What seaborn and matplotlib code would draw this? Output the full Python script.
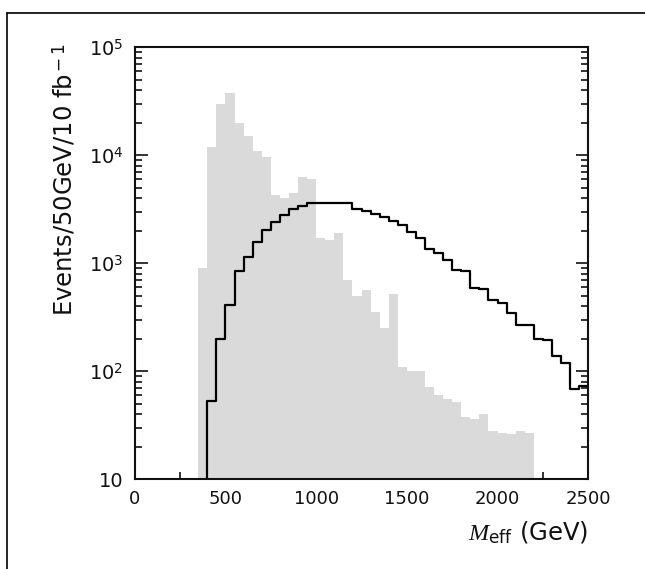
import numpy as np
import pandas as pd
import seaborn as sns
import matplotlib.pyplot as plt
from matplotlib.ticker import FixedLocator, FixedFormatter, LogLocator, NullFormatter

# -------------------------
# Data (50 GeV bins)
# -------------------------
bin_width = 50

# background (grey filled histogram), bins start at 350 GeV
bkg_start = 350
bkg_counts = [900, 12000, 30000, 38000, 20000, 15000, 11000, 9600, 4300, 4000,
              4500, 6300, 6000, 1700, 1650, 1900, 700, 500, 560, 350,
              250, 520, 110, 100, 100, 72, 60, 55, 52, 38,
              36, 40, 28, 27, 26, 28, 27]

# signal (black step line), bins start at 350 GeV (first bin empty)
sig_start = 350
sig_counts = [0, 53, 197, 414, 840, 1150, 1580, 2030, 2390, 2820,
              3180, 3420, 3600, 3620, 3620, 3620, 3580, 3150, 3050, 2870,
              2650, 2450, 2250, 1950, 1700, 1340, 1230, 1080, 860, 840,
              590, 575, 460, 425, 342, 270, 268, 200, 195, 138,
              118, 69, 73]

ytick_vals = [10, 100, 1000, 10000, 100000]
ytick_labels = ["10", "$10^{2}$", "$10^{3}$", "$10^{4}$", "$10^{5}$"]
xtick_vals = [0, 500, 1000, 1500, 2000, 2500]


def to_frame(start, counts):
    centers = start + bin_width * (np.arange(len(counts)) + 0.5)
    df = pd.DataFrame({"meff": centers, "n": counts})
    return df, (start, start + bin_width * len(counts))


bkg_df, bkg_range = to_frame(bkg_start, bkg_counts)
sig_df, sig_range = to_frame(sig_start, sig_counts)

# -------------------------
# Plot
# -------------------------
sns.set_style("ticks")
plt.rcParams["font.family"] = ["DejaVu Sans"]
plt.rcParams["mathtext.fontset"] = "custom"
plt.rcParams["mathtext.rm"] = "DejaVu Sans"
plt.rcParams["mathtext.sf"] = "DejaVu Sans"
plt.rcParams["mathtext.it"] = "Liberation Serif:italic"

fig = plt.figure(figsize=(6.45, 5.69), dpi=100)
ax = fig.add_axes([0.209, 0.158, 0.703, 0.759])

sns.histplot(data=bkg_df, x="meff", weights="n", binwidth=bin_width, binrange=bkg_range,
             element="step", fill=True, color="#dadada", alpha=1.0, linewidth=0, ax=ax)
sns.histplot(data=sig_df, x="meff", weights="n", binwidth=bin_width, binrange=sig_range,
             element="step", fill=False, color="black", linewidth=1.6, ax=ax)

ax.set_yscale("log")
ax.set_xlim(0, 2500)
ax.set_ylim(10, 1e5)

ax.yaxis.set_major_locator(FixedLocator(ytick_vals))
ax.yaxis.set_major_formatter(FixedFormatter(ytick_labels))
ax.yaxis.set_minor_locator(LogLocator(base=10, subs=np.arange(2, 10)))
ax.yaxis.set_minor_formatter(NullFormatter())
ax.xaxis.set_major_locator(FixedLocator(xtick_vals))
ax.xaxis.set_minor_locator(FixedLocator([250, 750, 1250, 1750, 2250]))

ax.tick_params(which="both", direction="in", right=True, top=False, width=1.2, colors="#111111")
ax.tick_params(which="major", length=9, labelsize=13, pad=8)
ax.tick_params(axis="y", which="major", labelsize=14)
ax.tick_params(which="minor", length=5)
for s in ax.spines.values():
    s.set_linewidth(1.5)
    s.set_color("#111111")

ax.set_ylabel(r"Events/50GeV/10 fb$^{\rm -1}$", fontsize=17.5, color="#111111")
ax.yaxis.set_label_coords(-0.125, 0.694)
ax.set_xlabel(r"$M_{\rm eff}$ (GeV)", fontsize=17.5, loc="right", labelpad=8,
              color="#111111")

# scanned page frame
fig.add_artist(plt.Line2D([7 / 645, 1], [1 - 13 / 569, 1 - 13 / 569], color="black", lw=1.2))
fig.add_artist(plt.Line2D([7 / 645, 7 / 645], [0, 1 - 13 / 569], color="black", lw=1.2))

fig.savefig("out.png", dpi=100)
